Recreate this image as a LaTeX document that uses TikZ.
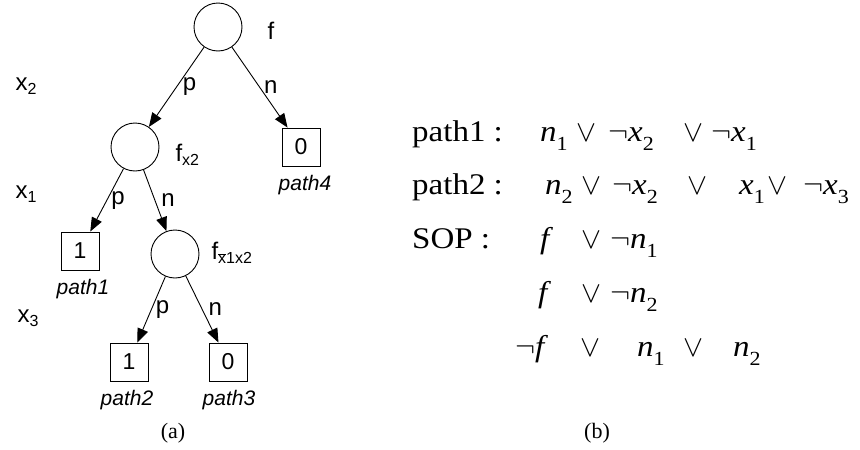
\documentclass[tikz,border=0pt]{standalone}
\usepackage{fix-cm}
\usepackage{fontspec}
\setmainfont{Liberation Serif}
\setsansfont{Liberation Sans}
\newfontfamily\eqfont{Liberation Serif}[FakeStretch=1.1]
\usetikzlibrary{arrows.meta}

% subscripts for the tree labels and for the literals
\newcommand{\ssub}[1]{\raisebox{-0.35ex}{\fontsize{16}{17}\selectfont #1}}
\newcommand{\lit}[2]{\textit{#1}\raisebox{-0.3em}{\fontsize{20}{20}\selectfont #2}}

\tikzset{
  state/.style={draw, circle, minimum size=48pt, inner sep=0pt, line width=0.9pt},
  leaf/.style={draw, rectangle, minimum size=38pt, inner sep=0pt, line width=0.9pt,
    font=\sffamily\fontsize{23}{25}\selectfont},
  lbl/.style={font=\sffamily\fontsize{24}{26}\selectfont},
  pth/.style={font=\sffamily\itshape\fontsize{21}{24}\selectfont},
  arc/.style={-{Triangle[length=14pt,width=11pt]}, line width=0.9pt},
  eq/.style={font=\eqfont\fontsize{30}{36}\selectfont, anchor=base west, inner sep=0pt},
  subcap/.style={font=\fontsize{22}{26}\selectfont},
}

\begin{document}
\begin{tikzpicture}[x=1pt,y=-1pt]
\useasboundingbox (0,0) rectangle (860,450);

% decision tree
\node[state] (root) at (218,27) {};
\node[state] (fx) at (135,147) {};
\node[state] (fnx) at (175,254) {};
\node[leaf] (z4) at (301,147) {0};
\node[leaf] (o1) at (80,251) {1};
\node[leaf] (o2) at (129,362) {1};
\node[leaf] (z3) at (228,362) {0};

\draw[arc] (root) -- node[lbl, right, inner sep=6pt] {p} (fx);
\draw[arc] (root) -- node[lbl, right, inner sep=4pt] {n} (z4);
\draw[arc] (fx) -- node[lbl, right, inner sep=4pt] {p} (o1);
\draw[arc] (fx) -- node[lbl, right, inner sep=6pt] {n} (fnx);
\draw[arc] (fnx) -- node[lbl, right, inner sep=4pt] {p} (o2);
\draw[arc] (fnx) -- node[lbl, right, inner sep=6pt] {n} (z3);

\node[lbl] (froot) at (271,31) {f};
\node[lbl, anchor=west] (ffx) at (172,155) {f\ssub{x2}};
\node[lbl, anchor=west] (ffnx) at (208,253) {f\ssub{$\overline{\hbox{x}}$1x2}};

% variable of each level
\node[lbl] (v2) at (26,86) {x\ssub{2}};
\node[lbl] (v1) at (26,194) {x\ssub{1}};
\node[lbl] (v3) at (28,318) {x\ssub{3}};

\node[pth] (p4) at (305,185) {path4};
\node[pth] (p1) at (83,289) {path1};
\node[pth] (p2) at (127,400) {path2};
\node[pth] (p3) at (229,400) {path3};

\node[subcap] (capa) at (173,433) {(a)};
\node[subcap] (capb) at (597,433) {(b)};

% clauses
\node[eq] at (412,141) {path1 :};
\node[eq] at (540,141) {\lit{n}{1}};
\node[eq] at (576,141) {$\vee$};
\node[eq] at (608,141) {$\neg$\lit{x}{2}};
\node[eq] at (683,141) {$\vee$};
\node[eq] at (711,141) {$\neg$\lit{x}{1}};

\node[eq] at (412,194) {path2 :};
\node[eq] at (545,194) {\lit{n}{2}};
\node[eq] at (581,194) {$\vee$};
\node[eq] at (612,194) {$\neg$\lit{x}{2}};
\node[eq] at (687,194) {$\vee$};
\node[eq] at (739,194) {\lit{x}{1}};
\node[eq] at (767,194) {$\vee$};
\node[eq] at (803,194) {$\neg$\lit{x}{3}};

\node[eq] at (412,248) {SOP :};
\node[eq] at (540,248) {\textit{f}};
\node[eq] at (581,248) {$\vee$};
\node[eq] at (610,248) {$\neg$\lit{n}{1}};

\node[eq] at (538,302) {\textit{f}};
\node[eq] at (581,302) {$\vee$};
\node[eq] at (610,302) {$\neg$\lit{n}{2}};

\node[eq] at (515,356) {$\neg$\textit{f}};
\node[eq] at (580,356) {$\vee$};
\node[eq] at (637,356) {\lit{n}{1}};
\node[eq] at (683,356) {$\vee$};
\node[eq] at (733,356) {\lit{n}{2}};
\end{tikzpicture}
\end{document}
